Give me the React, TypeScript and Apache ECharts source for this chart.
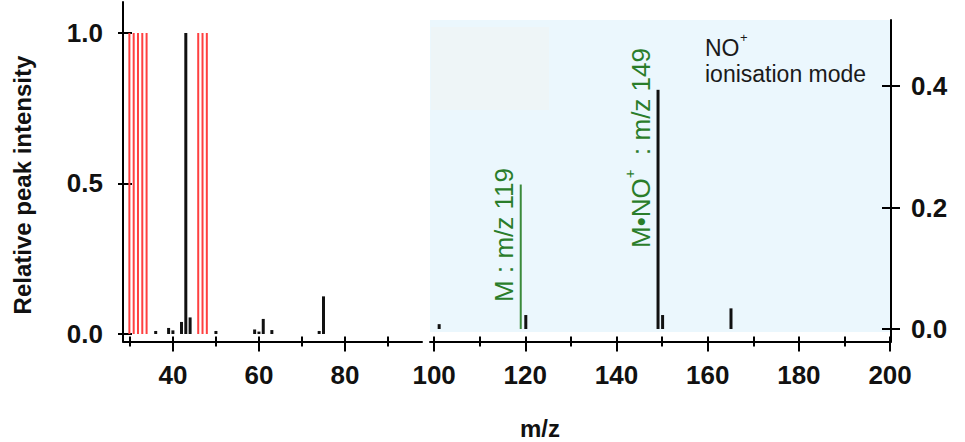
import React, { useEffect, useRef } from "react";
import * as echarts from "echarts";

// ---- data (m/z, relative intensity) ----
const reagentMz = [30, 31, 32, 33, 34, 46, 47, 48];
const reagentIntensity = [1.0, 1.0, 1.0, 1.0, 1.0, 1.0, 1.0, 1.0];

const lowMz = [36, 39, 40, 42, 43, 44, 50, 59, 60, 61, 63, 74, 75];
const lowIntensity = [0.01, 0.02, 0.012, 0.04, 1.0, 0.055, 0.01, 0.015, 0.008, 0.05, 0.013, 0.01, 0.125];

const highMz = [101, 120, 149, 150, 165];
const highIntensity = [0.008, 0.023, 0.394, 0.023, 0.034];

const parentMz = [119];
const parentIntensity = [0.238];

const leftXTicks = [40, 60, 80];
const leftXMinor = [30, 50, 70, 90];
const rightXTicks = [100, 120, 140, 160, 180, 200];
const rightXMinor = [110, 130, 150, 170, 190];
const leftYTicks = [0, 0.5, 1.0];
const rightYTicks = [0, 0.2, 0.4];

const FONT = '"Liberation Sans", Arial, sans-serif';
const GREEN = "#2a7d2a";

const pairs = (xs: number[], ys: number[]) => xs.map((x, i) => [x, ys[i]]);

function xAxisSet(grid: number, min: number, max: number, major: number[], minor: number[]) {
  const all = [...major, ...minor].sort((a, b) => a - b);
  const base = {
    type: "value",
    gridIndex: grid,
    min,
    max,
    position: "bottom",
    splitLine: { show: false },
  };
  return [
    {
      ...base,
      axisLine: { show: true, onZero: false, lineStyle: { color: "#000", width: 2 } },
      axisTick: { show: true, customValues: major, length: 10, inside: false, lineStyle: { color: "#000", width: 2 } },
      axisLabel: {
        show: true,
        customValues: major,
        margin: 20,
        fontSize: 26,
        fontWeight: "bold",
        fontFamily: FONT,
        color: "#111",
      },
    },
    {
      ...base,
      axisLine: { show: false, onZero: false },
      axisTick: { show: true, customValues: all, length: 5, inside: true, lineStyle: { color: "#000", width: 2 } },
      axisLabel: { show: false, customValues: all },
    },
    {
      ...base,
      axisLine: { show: false, onZero: false },
      axisTick: { show: true, customValues: minor, length: 5, inside: false, lineStyle: { color: "#000", width: 2 } },
      axisLabel: { show: false, customValues: minor },
    },
  ];
}

function yAxisSet(grid: number, pos: string, min: number, max: number, ticks: number[], outLen: number, inLen: number) {
  const base = {
    type: "value",
    gridIndex: grid,
    min,
    max,
    position: pos,
    splitLine: { show: false },
  };
  return [
    {
      ...base,
      axisLine: { show: true, onZero: false, lineStyle: { color: "#000", width: 2 } },
      axisTick: { show: true, customValues: ticks, length: outLen, inside: false, lineStyle: { color: "#000", width: 2 } },
      axisLabel: {
        show: true,
        customValues: ticks,
        margin: 20,
        fontSize: 26,
        fontWeight: "bold",
        fontFamily: FONT,
        color: "#111",
        formatter: (v: number) => v.toFixed(1),
      },
    },
    {
      ...base,
      axisLine: { show: false, onZero: false },
      axisTick: { show: true, customValues: ticks, length: inLen, inside: true, lineStyle: { color: "#000", width: 2 } },
      axisLabel: { show: false, customValues: ticks },
    },
  ];
}

export default function App() {
  const ref = useRef<HTMLDivElement>(null);

  useEffect(() => {
    if (!ref.current) return;
    const chart = echarts.init(ref.current, null, { renderer: "svg" });

    const option: any = {
      animation: false,
      backgroundColor: "#ffffff",
      grid: [
        { left: 123, right: 965 - 422, top: 2, bottom: 442 - 341.5, outerBoundsMode: "none", containLabel: false },
        { left: 430, right: 965 - 891, top: 20, bottom: 442 - 341.5, outerBoundsMode: "none", containLabel: false },
      ],
      xAxis: [
        ...xAxisSet(0, 28.4, 97.9, leftXTicks, leftXMinor),
        ...xAxisSet(1, 99.1, 200.2, rightXTicks, rightXMinor),
      ],
      yAxis: [
        ...yAxisSet(0, "left", -0.025, 1.103, leftYTicks, 5, 9),
        ...yAxisSet(1, "right", -0.0206, 0.509, rightYTicks, 9, 9),
      ],
      graphic: [
        { type: "rect", z: -10, shape: { x: 430, y: 20, width: 461, height: 312 }, style: { fill: "#ebf7fd" } },
        { type: "rect", z: -9, shape: { x: 431, y: 27, width: 118, height: 83 }, style: { fill: "#eef5f7" } },
        {
          type: "text",
          x: 22,
          y: 185,
          rotation: Math.PI / 2,
          style: { text: "Relative peak intensity", fontSize: 24, fontWeight: "bold", fontFamily: FONT, fill: "#111", align: "center", verticalAlign: "middle" },
        },
        {
          type: "text",
          x: 540,
          y: 428,
          style: { text: "m/z", fontSize: 24, fontWeight: "bold", fontFamily: FONT, fill: "#111", align: "center", verticalAlign: "middle" },
        },
        {
          type: "text",
          x: 705,
          y: 48,
          style: { text: "NO", fontSize: 23, fontFamily: FONT, fill: "#1a1a1a", align: "left", verticalAlign: "middle" },
        },
        {
          type: "text",
          x: 740,
          y: 37,
          style: { text: "+", fontSize: 13, fontFamily: FONT, fill: "#1a1a1a", align: "left", verticalAlign: "middle" },
        },
        {
          type: "text",
          x: 705,
          y: 74,
          style: { text: "ionisation mode", fontSize: 23, fontFamily: FONT, fill: "#1a1a1a", align: "left", verticalAlign: "middle" },
        },
        {
          type: "text",
          x: 504,
          y: 235,
          rotation: Math.PI / 2,
          style: { text: "M : m/z 119", fontSize: 26, fontFamily: FONT, fill: GREEN, align: "center", verticalAlign: "middle" },
        },
        {
          type: "text",
          x: 641,
          y: 148,
          rotation: Math.PI / 2,
          style: {
            text: "{a|M•NO}{s|+}{a|  : m/z 149}",
            fontFamily: FONT,
            fill: GREEN,
            align: "center",
            verticalAlign: "middle",
            rich: {
              a: { fontSize: 26, fontFamily: FONT, fill: GREEN, lineHeight: 38 },
              s: { fontSize: 15, fontFamily: FONT, fill: GREEN, verticalAlign: "top", lineHeight: 38 },
            },
          },
        },
      ],
      series: [
        {
          type: "bar",
          xAxisIndex: 0,
          yAxisIndex: 0,
          data: pairs(reagentMz, reagentIntensity),
          barWidth: 2,
          barGap: "-100%",
          itemStyle: { color: "#ff4040" },
          z: 3,
        },
        {
          type: "bar",
          xAxisIndex: 0,
          yAxisIndex: 0,
          data: pairs(lowMz, lowIntensity),
          barWidth: 3,
          barGap: "-100%",
          itemStyle: { color: "#111" },
          z: 4,
        },
        {
          type: "bar",
          xAxisIndex: 3,
          yAxisIndex: 2,
          data: pairs(highMz, highIntensity),
          barWidth: 3,
          barGap: "-100%",
          itemStyle: { color: "#111" },
          z: 4,
        },
        {
          type: "bar",
          xAxisIndex: 3,
          yAxisIndex: 2,
          data: pairs(parentMz, parentIntensity),
          barWidth: 2,
          barGap: "-100%",
          itemStyle: { color: "#3a8a3a" },
          z: 4,
        },
      ],
    };

    chart.setOption(option);
    return () => chart.dispose();
  }, []);

  return (
    <div
      ref={ref}
      style={{ position: "fixed", left: 0, top: 0, width: 965, height: 442, background: "#fff" }}
    />
  );
}
